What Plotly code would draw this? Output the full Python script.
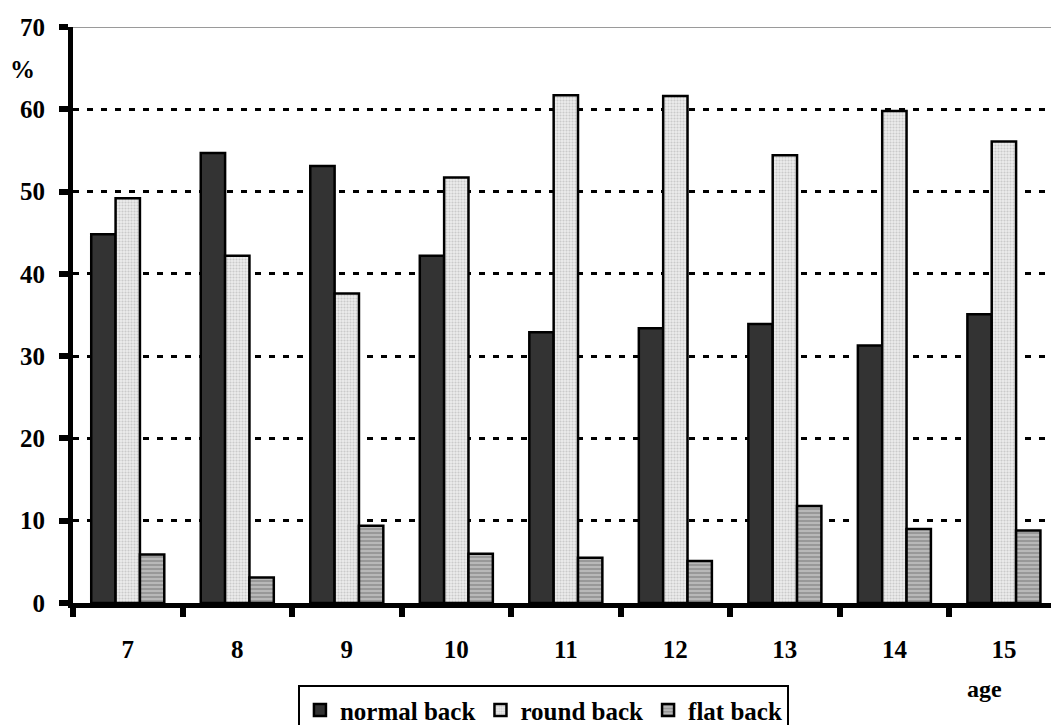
import plotly.graph_objects as go

ages = ["7", "8", "9", "10", "11", "12", "13", "14", "15"]
normal_back = [44.8, 54.7, 53.1, 42.2, 32.9, 33.4, 33.9, 31.3, 35.1]
round_back = [49.2, 42.2, 37.6, 51.7, 61.7, 61.6, 54.4, 59.8, 56.1]
flat_back = [5.9, 3.1, 9.4, 6.0, 5.5, 5.1, 11.8, 9.0, 8.8]
y_ticks = [0, 10, 20, 30, 40, 50, 60, 70]

FONT = "Liberation Serif, Times New Roman, serif"
outline = dict(color="black", width=2.5)

fig = go.Figure()
fig.add_trace(go.Bar(
    x=ages, y=normal_back, name="normal back",
    marker=dict(color="#333333", line=outline),
))
fig.add_trace(go.Bar(
    x=ages, y=round_back, name="round back",
    marker=dict(color="#e4e4e4", line=outline,
                pattern=dict(shape=".", fgcolor="#a8a8a8", bgcolor="#ececec",
                             size=3, solidity=0.4)),
))
fig.add_trace(go.Bar(
    x=ages, y=flat_back, name="flat back",
    marker=dict(color="#a0a0a0", line=outline,
                pattern=dict(shape="-", fgcolor="#777777", bgcolor="#b8b8b8",
                             size=4, solidity=0.5)),
))

# thin grey frame line along the top of the plotting area
fig.add_shape(type="line", xref="paper", yref="y", x0=0, x1=1, y0=70, y1=70,
              line=dict(color="#9a9a9a", width=2), layer="below")

fig.add_annotation(text="%", xref="paper", yref="y", x=-0.052, y=64.8,
                   showarrow=False, xanchor="center", yanchor="middle",
                   font=dict(family=FONT, size=25, color="black", weight="bold"))
fig.add_annotation(text="age", xref="paper", yref="paper", x=0.932, y=-0.15,
                   showarrow=False, xanchor="center", yanchor="middle",
                   font=dict(family=FONT, size=24, color="black", weight="bold"))

fig.update_layout(
    width=1051, height=725,
    margin=dict(l=73, r=0, t=27, b=122, autoexpand=False),
    paper_bgcolor="white", plot_bgcolor="white",
    barmode="group", bargap=0.333, bargroupgap=0.0,
    font=dict(family=FONT, color="black"),
    showlegend=True,
    legend=dict(orientation="h", x=0.23, y=-0.143, xanchor="left", yanchor="top",
                bordercolor="black", borderwidth=2, bgcolor="white",
                font=dict(family=FONT, size=25, color="black", weight="bold"),
                itemwidth=30, tracegroupgap=0, traceorder="normal"),
    xaxis=dict(
        type="category", range=[-0.5, 8.43],
        showline=True, linecolor="black", linewidth=5,
        ticks="outside", tickson="boundaries", ticklen=9, tickwidth=6,
        tickcolor="black", ticklabelstandoff=20,
        tickfont=dict(family=FONT, size=25, color="black", weight="bold"),
        showgrid=False, zeroline=False,
    ),
    yaxis=dict(
        range=[0, 70], tickvals=y_ticks,
        showline=True, linecolor="black", linewidth=5,
        ticks="outside", ticklen=9, tickwidth=6, tickcolor="black",
        ticklabelstandoff=9,
        tickfont=dict(family=FONT, size=25, color="black", weight="bold"),
        showgrid=True, gridcolor="black", gridwidth=3, griddash="6px,8px",
        zeroline=False,
    ),
)

fig.write_html("out.html")
